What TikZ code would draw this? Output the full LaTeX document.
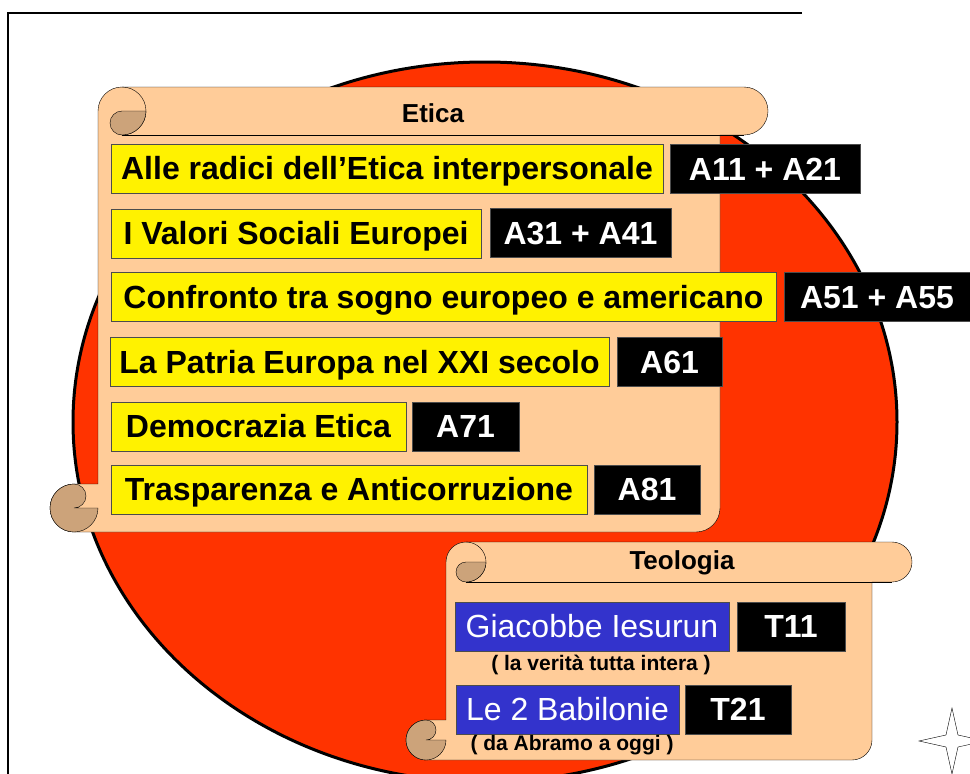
\documentclass[tikz,border=0pt]{standalone}
\usepackage{fontspec}
\setmainfont{Liberation Sans}
\usepackage{xcolor}
\usepackage{tikz}

\definecolor{discred}{HTML}{FF3300}
\definecolor{parchment}{HTML}{FFCC99}
\definecolor{rollend}{HTML}{CCA37A}
\definecolor{boxblue}{HTML}{3333CC}

% scroll: #1 left, #2 right, #3 top, #4 bottom, #5 roll radius
\newcommand{\drawscroll}[5]{%
  \filldraw[fill=parchment, draw=black] (#1,#3+#5)
    arc[start angle=180, end angle=270, radius=#5] -- (#2+#5,#3)
    arc[start angle=270, end angle=450, radius=#5] -- (#2,#3+2*#5)
    -- (#2,#4-#5) arc[start angle=0, end angle=90, radius=#5] -- (#1-#5,#4)
    arc[start angle=90, end angle=270, radius=#5] -- (#1,#4-2*#5) -- cycle;
  \draw (#1+#5,#3+2*#5) -- (#2+#5,#3+2*#5);
  \draw (#1+#5,#3) arc[start angle=270, end angle=450, radius=#5];
  \filldraw[fill=rollend, draw=black] (#1+#5,#3+#5) -- (#1+2*#5,#3+#5)
    arc[start angle=0, end angle=90, radius=#5]
    arc[start angle=90, end angle=270, radius=#5/2] -- cycle;
  \filldraw[fill=rollend, draw=black] (#1-#5,#4-#5) -- (#1,#4-#5)
    arc[start angle=0, end angle=270, radius=#5]
    arc[start angle=270, end angle=450, radius=#5/2] -- cycle;
}

\begin{document}
\begin{tikzpicture}[x=1pt, y=-1pt,
    yelbox/.style={draw=black!70, fill=yellow, inner sep=0pt, minimum height=49pt,
        text height=25pt, text depth=3pt, font=\fontsize{32}{36}\selectfont\bfseries},
    blkbox/.style={draw=black!70, fill=black, text=white, inner sep=0pt, minimum height=49pt,
        text height=25pt, text depth=3pt, font=\fontsize{32}{36}\selectfont\bfseries},
    blubox/.style={draw=black!70, fill=boxblue, text=white, inner sep=0pt, minimum height=49pt,
        text height=25pt, text depth=3pt, font=\fontsize{32}{36}\selectfont},
    title/.style={inner sep=0pt, font=\fontsize{26}{30}\selectfont\bfseries},
    note/.style={inner sep=0pt, font=\fontsize{21}{24}\selectfont\bfseries}]
    \useasboundingbox (0,0) rectangle (970,774);

    \draw[line width=2pt] (802,13) -- (8,13) -- (8,774);
    \filldraw[fill=discred, draw=black, line width=3pt] (485,422) ellipse [x radius=412, y radius=360];

    % Etica
    \drawscroll{98}{720}{87}{532}{24}
    \node[title] (etica) at (433,113) {Etica};
    \node[yelbox, minimum width=552pt] (radici) at (387,168.5) {Alle radici dell’Etica interpersonale};
    \node[blkbox, minimum width=190pt] (a11) at (765,169) {A11 + A21};
    \node[yelbox, minimum width=370pt] (valori) at (296,233.5) {I Valori Sociali Europei};
    \node[blkbox, minimum width=181pt] (a31) at (580.5,233) {A31 + A41};
    \node[yelbox, minimum width=665pt] (sogno) at (443.5,297) {Confronto tra sogno europeo e americano};
    \node[blkbox, minimum width=186pt] (a51) at (877,297) {A51 + A55};
    \node[yelbox, minimum width=499pt] (patria) at (359.5,362) {La Patria Europa nel XXI secolo};
    \node[blkbox, minimum width=105pt] (a61) at (669.5,362) {A61};
    \node[yelbox, minimum width=295pt] (democrazia) at (258.5,426.5) {Democrazia Etica};
    \node[blkbox, minimum width=107pt] (a71) at (465.5,426.5) {A71};
    \node[yelbox, minimum width=476pt] (trasparenza) at (349,489.5) {Trasparenza e Anticorruzione};
    \node[blkbox, minimum width=106pt] (a81) at (647,489.5) {A81};

    % Teologia
    \drawscroll{446}{872}{542}{760}{20}
    \node[title] (teologia) at (682,563) {Teologia};
    \node[blubox, minimum width=274pt] (giacobbe) at (592,626.5) {Giacobbe Iesurun};
    \node[blkbox, minimum width=108pt] (t11) at (791,626.5) {T11};
    \node[note] (verita) at (601,665) {( la verità tutta intera )};
    \node[blubox, minimum width=223pt] (babilonie) at (567.5,709.5) {Le 2 Babilonie};
    \node[blkbox, minimum width=106pt] (t21) at (738,709.5) {T21};
    \node[note] (abramo) at (572,745) {( da Abramo a oggi )};

    \filldraw[fill=white, draw=black] (952,708) -- (958,735) -- (985,741) -- (958,747)
        -- (952,774) -- (946,747) -- (919,741) -- (946,735) -- cycle;
\end{tikzpicture}
\end{document}
